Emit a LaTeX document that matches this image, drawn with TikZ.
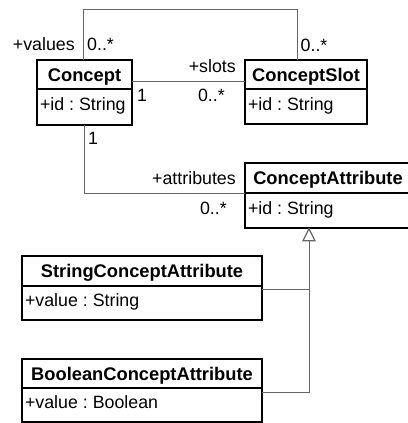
\documentclass[tikz,border=0pt]{standalone}
\usepackage{fontspec}
\setmainfont{Liberation Sans}
\usetikzlibrary{arrows.meta,calc}
\begin{document}
\frenchspacing
\begin{tikzpicture}[x=1bp,y=-1bp,
  hdr/.style={draw=black, line width=1.3bp, inner sep=0pt, outer sep=0pt, anchor=north west,
    font=\fontsize{18.3bp}{22bp}\selectfont\bfseries, text height=13bp, text depth=0pt},
  attr/.style={draw=black, line width=1.3bp, inner xsep=3bp, inner ysep=0pt, outer sep=0pt, anchor=north west,
    font=\fontsize{17.8bp}{21bp}\selectfont\frenchspacing, text height=13bp, text depth=6bp},
  conn/.style={draw=black!60, line width=1bp},
  lbl/.style={inner sep=0pt, font=\fontsize{17.8bp}{21bp}\selectfont}]
\clip (0,0) rectangle (408,423);
\fill[white] (0,0) rectangle (408,423);

% classes
\node[hdr, minimum width=95bp, minimum height=29bp] (concept) at (37,60) {Concept};
\node[attr, minimum height=36bp] (conceptA) at (concept.south west) {\makebox[89bp][l]{+id : String}};

\node[hdr, minimum width=122bp, minimum height=29bp] (slot) at (245,60) {ConceptSlot};
\node[attr, minimum height=35bp] (slotA) at (slot.south west) {\makebox[116bp][l]{+id : String}};

\node[hdr, minimum width=166bp, minimum height=30bp] (cattr) at (245,163) {ConceptAttribute};
\node[attr, minimum height=35bp] (cattrA) at (cattr.south west) {\makebox[160bp][l]{+id : String}};

\node[hdr, minimum width=240bp, minimum height=30bp] (string) at (22,256) {StringConceptAttribute};
\node[attr, minimum height=34bp] (stringA) at (string.south west) {\makebox[234bp][l]{+value : String}};

\node[hdr, minimum width=240bp, minimum height=29bp] (bool) at (22,359) {BooleanConceptAttribute};
\node[attr, minimum height=34bp] (boolA) at (bool.south west) {\makebox[234bp][l]{+value : Boolean}};

% associations
\draw[conn] ([xshift=-1bp]concept.north) -- ++(0,-51) -| ([xshift=-9bp]slot.north);
\draw[conn] ([yshift=8bp]concept.south east) -- ([yshift=8bp]slot.south west);
\draw[conn] ([xshift=-0.5bp]conceptA.south) |- (cattrA.north west);

% generalization
\coordinate (gen) at ([xshift=-19bp, yshift=-0.7bp]cattrA.south);
\coordinate (genbase) at ([yshift=-12bp]gen);
\draw[conn] ([yshift=-4bp]boolA.north east) -| (genbase);
\draw[conn] ([yshift=-3bp]stringA.north east) -- ([yshift=-3bp]stringA.north east -| gen);
\draw[conn, line width=1.2bp, fill=white, line join=miter] (gen) -- ([xshift=6bp]genbase) -- ([xshift=-6bp]genbase) -- cycle;

% labels
\node[lbl, anchor=base east] (lvalues) at (75,50) {+values};
\node[lbl, anchor=base west] (lvm) at (87,50) {0..*};
\node[lbl, anchor=base west] (lsm) at (300.5,51.5) {0..*};
\node[lbl, anchor=base east] (lslots) at (236,72) {+slots};
\node[lbl, anchor=base west] (lc1) at (137,101.5) {1};
\node[lbl, anchor=base east] (lsm2) at (225,101.5) {0..*};
\node[lbl, anchor=base west] (lc2) at (88,144) {1};
\node[lbl, anchor=base east] (lattr) at (236,184) {+attributes};
\node[lbl, anchor=base east] (lam) at (227,214) {0..*};
\end{tikzpicture}
\end{document}
